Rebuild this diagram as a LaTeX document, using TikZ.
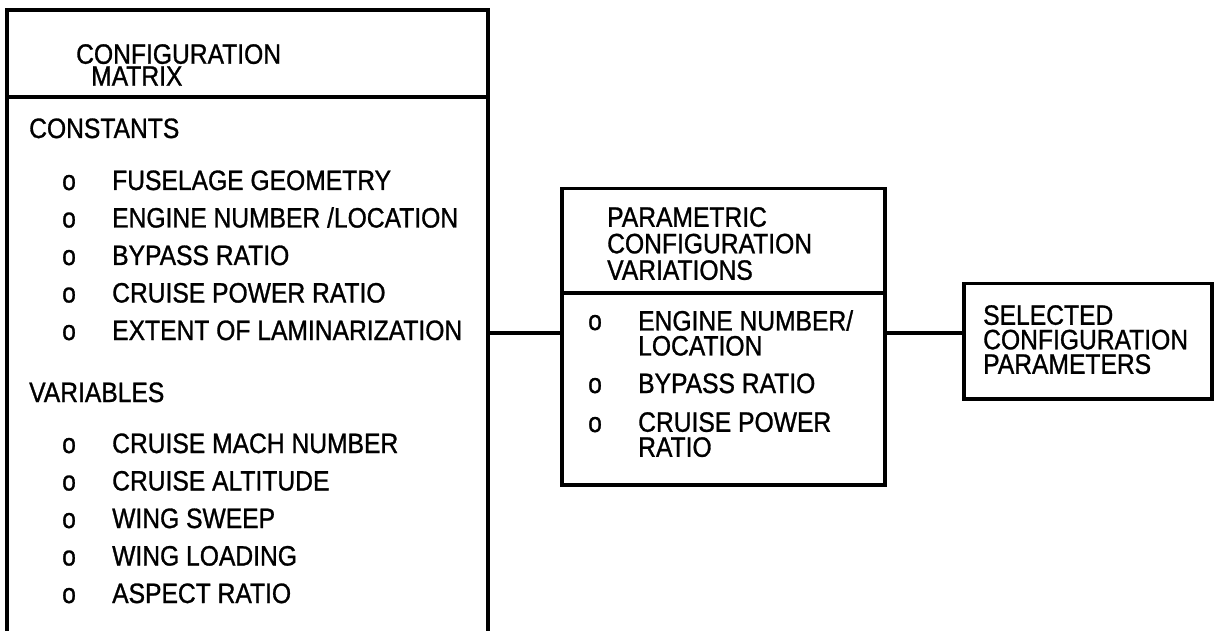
\documentclass[tikz,border=0pt]{standalone}
\usepackage{fontspec}
\setmainfont{Liberation Sans}[FakeStretch=0.88,FakeBold=1]
\begin{document}
\begin{tikzpicture}[x=1pt,y=-1pt,
  frame/.style={draw=black, line width=3.5pt},
  boxnode/.style={draw=black, line width=3.5pt, rectangle, inner sep=0pt, anchor=north west},
  conn/.style={draw=black, line width=3.5pt},
  txt/.style={anchor=base west, inner sep=0pt, font=\fontsize{28}{30}\selectfont},
  blk/.style={anchor=north west, inner sep=0pt, align=left, font=\fontsize{28}{#1}\selectfont},
  bul/.style={anchor=base west, inner sep=0pt, font=\fontsize{28}{30}\selectfont}]
\useasboundingbox (0,0) rectangle (1216,631);
% left box (open at bottom)
\draw[frame, line cap=butt] (7,631) -- (7,10) -- (488,10) -- (488,631);
\draw[frame] (7,97) -- (488,97);
\coordinate (Lr) at (488,333);
% title
\node[blk=22] (t1) at (76,44) {CONFIGURATION\\\hspace*{15pt}MATRIX};
\node[txt] (c0) at (29,138) {CONSTANTS};
\node[bul] (cb1) at (62,190) {o};   \node[txt] (c1) at (112,190) {FUSELAGE GEOMETRY};
\node[bul] (cb2) at (62,227.5) {o}; \node[txt] (c2) at (112,227.5) {ENGINE NUMBER /LOCATION};
\node[bul] (cb3) at (62,265) {o};   \node[txt] (c3) at (112,265) {BYPASS RATIO};
\node[bul] (cb4) at (62,302.5) {o}; \node[txt] (c4) at (112,302.5) {CRUISE POWER RATIO};
\node[bul] (cb5) at (62,340) {o};   \node[txt] (c5) at (112,340) {EXTENT OF LAMINARIZATION};
\node[txt] (v0) at (29,402) {VARIABLES};
\node[bul] (vb1) at (62,453) {o};   \node[txt] (v1) at (112,453) {CRUISE MACH NUMBER};
\node[bul] (vb2) at (62,490.5) {o}; \node[txt] (v2) at (112,490.5) {CRUISE ALTITUDE};
\node[bul] (vb3) at (62,528) {o};   \node[txt] (v3) at (112,528) {WING SWEEP};
\node[bul] (vb4) at (62,565.5) {o}; \node[txt] (v4) at (112,565.5) {WING LOADING};
\node[bul] (vb5) at (62,603) {o};   \node[txt] (v5) at (112,603) {ASPECT RATIO};
% middle box
\node[boxnode, minimum width=323pt, minimum height=296pt] (mid) at (560,187) {};
\draw[frame] (mid.west |- 0,293) -- (mid.east |- 0,293);
\node[blk=26.5] (m1) at (607,207) {PARAMETRIC\\CONFIGURATION\\VARIATIONS};
\node[bul] (mb1) at (588,330) {o};
\node[blk=25] (mi1) at (638,310) {ENGINE NUMBER/\\LOCATION};
\node[bul] (mb2) at (588,393) {o}; \node[txt] (mi2) at (638,393) {BYPASS RATIO};
\node[bul] (mb3) at (588,432) {o};
\node[blk=25] (mi3) at (638,412) {CRUISE POWER\\RATIO};
% right box
\node[boxnode, minimum width=248pt, minimum height=115pt] (sel) at (962,282) {};
\node[blk=24.5] (s1) at (983,305) {SELECTED\\CONFIGURATION\\PARAMETERS};
% connectors
\draw[conn] (Lr) -- (Lr -| mid.west);
\draw[conn] (Lr -| mid.east) -- (Lr -| sel.west);
\end{tikzpicture}
\end{document}
